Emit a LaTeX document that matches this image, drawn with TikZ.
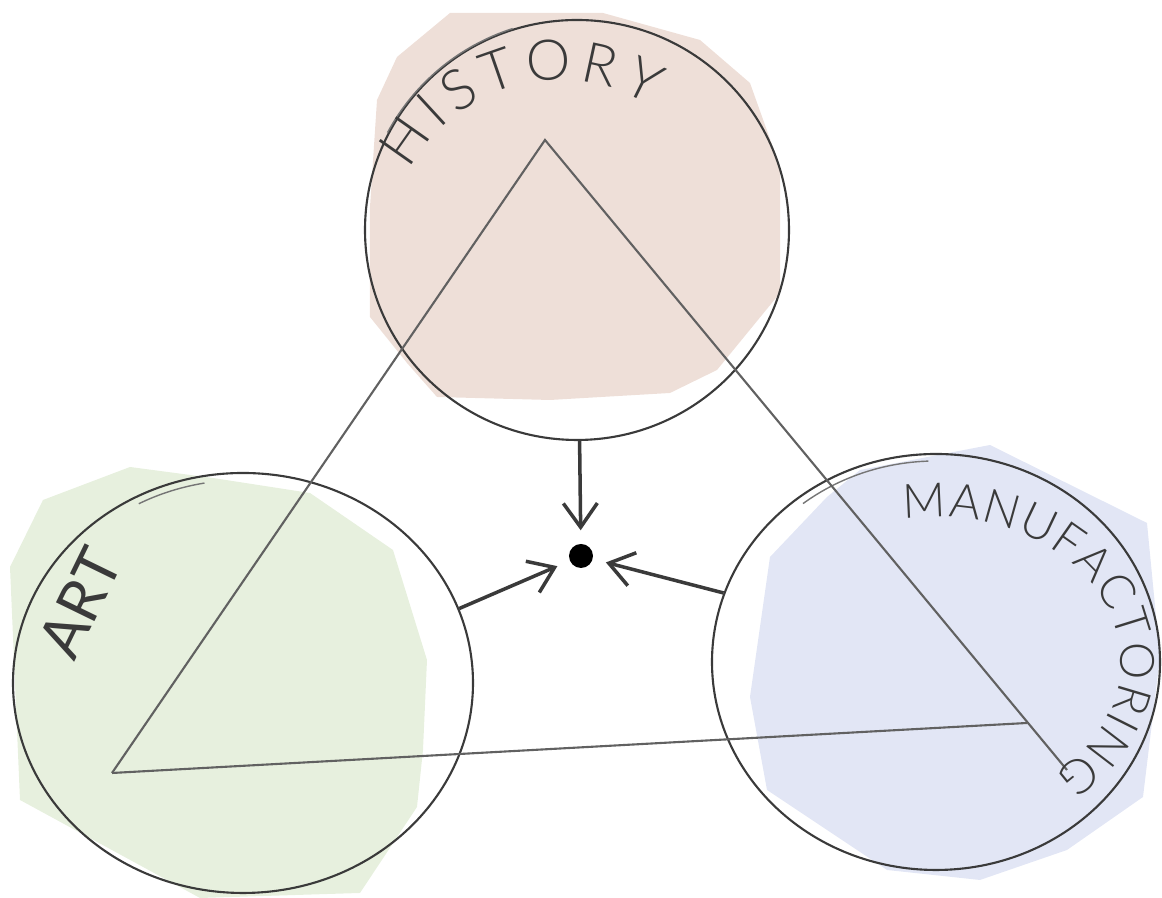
\documentclass[tikz,border=0pt]{standalone}
\usepackage{fontspec}
\setmainfont{Lato Light}
\newfontfamily\boldpencil{Lato}
\usetikzlibrary{shapes.geometric, arrows.meta, decorations.text}
\definecolor{pencil}{HTML}{3A3A3A}
\definecolor{historypink}{HTML}{EEDFD8}
\definecolor{artgreen}{HTML}{E7F0DE}
\definecolor{manufblue}{HTML}{E2E6F5}

\begin{document}
\begin{tikzpicture}[
  bubble/.style={ellipse, draw=pencil, line width=0.6pt, inner sep=0pt},
  edge/.style={draw=pencil!80, line width=0.6pt},
  retrace/.style={draw=pencil!70, line width=0.4pt},
  pointer/.style={draw=pencil, line width=1pt, -{Straight Barb[length=2.4mm,width=3.4mm]}, shorten >=1.3mm},
  curved/.style={decorate, decoration={text along path, text align=fit to path, text color=pencil}}
]
  \useasboundingbox (0,0) rectangle (11.62,8.98);

  \fill[historypink] (4.50,8.85) -- (6.03,8.85) -- (7.00,8.58) -- (7.50,8.15) -- (7.80,7.31)
    -- (7.80,6.05) -- (7.17,5.28) -- (6.70,5.05) -- (5.50,4.98) -- (4.37,5.01)
    -- (4.07,5.35) -- (3.70,5.81) -- (3.70,6.91) -- (3.77,7.98) -- (3.97,8.41) -- cycle;
  \fill[artgreen] (0.10,3.31) -- (0.43,3.98) -- (1.30,4.31) -- (2.13,4.20) -- (3.10,4.05)
    -- (3.93,3.48) -- (4.27,2.38) -- (4.23,1.48) -- (4.17,0.91) -- (3.60,0.05)
    -- (2.00,0.00) -- (0.20,0.98) -- cycle;
  \fill[manufblue] (8.60,4.28) -- (9.90,4.53) -- (11.47,3.75) -- (11.60,2.41) -- (11.43,1.01)
    -- (10.67,0.48) -- (9.80,0.18) -- (8.87,0.28) -- (7.67,1.08) -- (7.50,2.01)
    -- (7.70,3.41) -- (8.27,4.01) -- cycle;

  \node[bubble, minimum width=4.24cm, minimum height=4.20cm] (history) at (5.77,6.68) {};
  \node[bubble, minimum width=4.60cm, minimum height=4.20cm] (art) at (2.43,2.15) {};
  \node[bubble, minimum width=4.48cm, minimum height=4.16cm] (manuf) at (9.36,2.36) {};

  % second pencil strokes
  \draw[retrace] (5.80,6.64) ++(108:2.18 and 2.16) arc[start angle=108, end angle=152, x radius=2.18, y radius=2.16];
  \draw[retrace] (9.36,2.36) ++(92:2.16 and 2.01) arc[start angle=92, end angle=128, x radius=2.16, y radius=2.01];
  \draw[retrace] (2.43,2.15) ++(100:2.22 and 2.03) arc[start angle=100, end angle=118, x radius=2.22, y radius=2.03];

  \coordinate (top) at (5.45,7.58);
  \coordinate (left) at (1.12,1.25);
  \coordinate (right) at (10.27,1.75);
  \coordinate (tail) at (10.67,1.28);
  \draw[edge] (left) -- (top) -- (tail);
  \draw[edge] (left) -- (right);

  \node[circle, fill=black, minimum size=2.4mm, inner sep=0pt] (dot) at (5.81,3.42) {};
  \draw[pointer] (history) -- (dot);
  \draw[pointer] (art.19) -- (dot);
  \draw[pointer] (manuf.162) -- (dot);

  \path[curved, decoration={text={|\fontsize{16}{19}\selectfont|HISTORY}}]
    (5.60,6.48) ++(152:1.70) arc (152:58:1.70);
  \path[curved, decoration={text={|\fontsize{13.5}{16}\selectfont|MANUFACTORING}}]
    (9.36,2.36) ++(100:1.85 and 1.45) arc[start angle=100, end angle=-50, x radius=1.85, y radius=1.45];
  \node[rotate=64, text=pencil, font=\boldpencil\fontsize{17}{20}\selectfont] (artlabel) at (0.80,2.95) {ART};
\end{tikzpicture}
\end{document}
